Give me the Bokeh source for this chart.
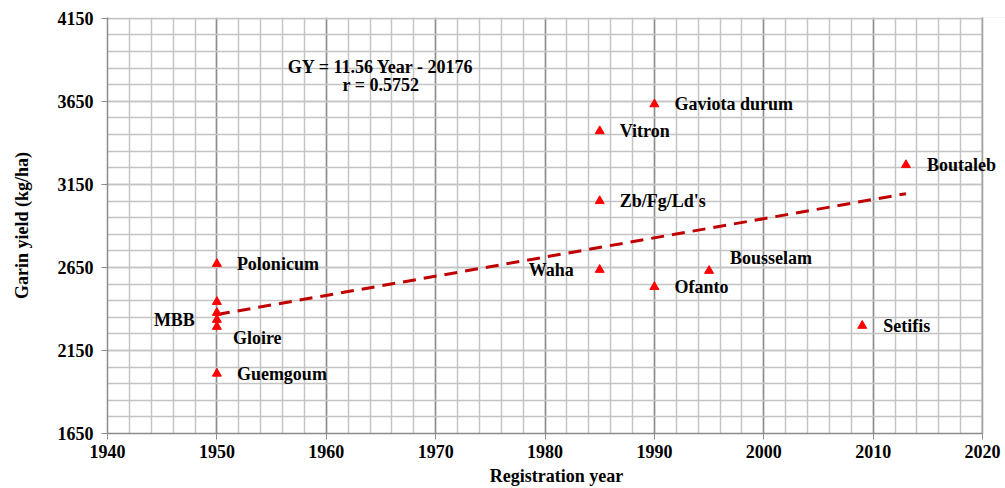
from bokeh.plotting import figure
from bokeh.models import FixedTicker, Range1d, ColumnDataSource, Label, Span, BoxAnnotation
from bokeh.embed import file_html
from bokeh.resources import INLINE

names = ["Polonicum", "", "", "MBB", "Gloire", "Guemgoum", "Gaviota durum", "Vitron",
         "Zb/Fg/Ld's", "Waha", "Ofanto", "Bousselam", "Boutaleb", "Setifis"]
years = [1950, 1950, 1950, 1950, 1950, 1950, 1990, 1985, 1985, 1985, 1990, 1995, 2013, 2009]
yields = [2672, 2443, 2377, 2335, 2293, 2011, 3633, 3471, 3050, 2636, 2533, 2630, 3267, 2299]

trend_x = [1950, 2013]
trend_y = [2366, 3094]

x_ticks = [1940, 1950, 1960, 1970, 1980, 1990, 2000, 2010, 2020]
y_ticks = [1650, 2150, 2650, 3150, 3650, 4150]

FONT = "Liberation Serif"
X_MIN, X_MAX = 1940, 2020
Y_MIN, Y_MAX = 1650, 4150

p = figure(width=1005, height=488, output_backend="svg", toolbar_location=None,
           x_range=Range1d(X_MIN, X_MAX + 2.1), y_range=Range1d(Y_MIN, Y_MAX + 5),
           min_border_left=107, min_border_right=0, min_border_top=17, min_border_bottom=54)
p.outline_line_color = None
p.background_fill_color = "white"

p.xaxis.ticker = FixedTicker(ticks=x_ticks, minor_ticks=list(range(1940, 2021, 2)))
p.yaxis.ticker = FixedTicker(ticks=y_ticks, minor_ticks=list(range(1650, 4151, 100)))
p.xaxis.bounds = (X_MIN, X_MAX)

p.xgrid.grid_line_color = "#8c8c8c"
p.xgrid.grid_line_width = 1.5
p.xgrid.minor_grid_line_color = "#c4c4c4"
p.xgrid.minor_grid_line_width = 1.5
p.ygrid.grid_line_color = "#c4c4c4"
p.ygrid.grid_line_width = 1.5
p.ygrid.minor_grid_line_color = "#c4c4c4"
p.ygrid.minor_grid_line_width = 1.5
p.ygrid.bounds = (X_MIN, X_MAX)

for ax in (p.xaxis, p.yaxis):
    ax.axis_line_color = "#8c8c8c"
    ax.axis_line_width = 1.5
    ax.major_tick_line_color = "#8c8c8c"
    ax.major_tick_out = 6
    ax.major_tick_in = 0
    ax.minor_tick_line_color = None
    ax.major_label_text_font = FONT
    ax.major_label_text_font_style = "bold"
    ax.major_label_text_font_size = "18px"
    ax.major_label_text_color = "black"
    ax.axis_label_text_font = FONT
    ax.axis_label_text_font_style = "bold"
    ax.axis_label_text_font_size = "18px"
    ax.axis_label_text_color = "black"

p.xaxis.axis_label = "Registration year"
p.yaxis.axis_label = "Garin yield (kg/ha)"
p.xaxis.axis_label_standoff = 5
p.yaxis.axis_label_standoff = 23
p.yaxis.major_label_standoff = 8

# white cover to the right of 2020 so the grid stops there
p.add_layout(BoxAnnotation(left=X_MAX, fill_color="white", fill_alpha=1.0, line_color=None,
                           level="underlay"))
p.add_layout(Span(location=X_MAX, dimension="height", line_color="#a0a0a0", line_width=1.5,
                  level="underlay"))

p.line(trend_x, trend_y, line_color="#c00000", line_width=3, line_dash="13 8")

src = ColumnDataSource(dict(x=years, y=yields, name=names))
p.scatter("x", "y", source=src, marker="triangle", size=9, fill_color="#ff0000",
          line_color="#ff0000")

offsets = {
    "Polonicum": (20, 0, "left"),
    "MBB": (-22, 0, "right"),
    "Gloire": (16, -11, "left"),
    "Guemgoum": (20, 0, "left"),
    "Gaviota durum": (20, 0, "left"),
    "Vitron": (20, 0, "left"),
    "Zb/Fg/Ld's": (20, 0, "left"),
    "Waha": (-26, 0, "right"),
    "Ofanto": (20, 0, "left"),
    "Bousselam": (21, 13, "left"),
    "Boutaleb": (21, 0, "left"),
    "Setifis": (21, 0, "left"),
}
for n, xv, yv in zip(names, years, yields):
    if n in offsets:
        dx, dy, al = offsets[n]
        p.add_layout(Label(x=xv, y=yv, x_offset=dx, y_offset=dy, text=n,
                           text_font=FONT, text_font_style="bold", text_font_size="18px",
                           text_align=al, text_baseline="middle", text_color="black"))

p.add_layout(Label(x=1965, y=3855, text="GY = 11.56 Year - 20176", text_align="center",
                   text_baseline="middle", text_font=FONT, text_font_style="bold",
                   text_font_size="18px", text_color="black"))
p.add_layout(Label(x=1965, y=3747, text="r = 0.5752", text_align="center",
                   text_baseline="middle", text_font=FONT, text_font_style="bold",
                   text_font_size="18px", text_color="black"))

open("out.html", "w").write(file_html(p, INLINE))
